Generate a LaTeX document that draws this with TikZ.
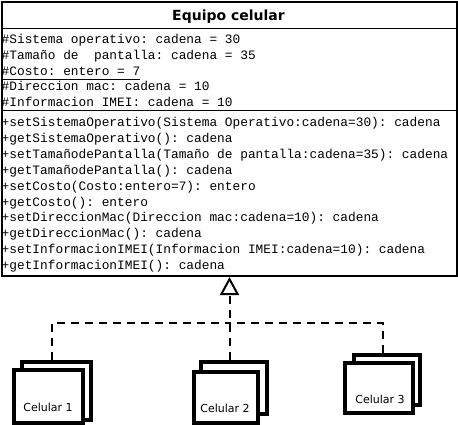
\documentclass[tikz,border=0pt]{standalone}
\usepackage{fontspec}
\setmainfont{DejaVu Sans}
\setmonofont{Liberation Mono}
\usetikzlibrary{arrows.meta}
\tikzset{
  member/.style={anchor=base west, inner sep=0pt, font=\ttfamily\fontsize{12.83}{15}\selectfont},
  classbox/.style={draw, line width=2pt, anchor=north west, inner sep=0pt},
  sepline/.style={line width=1pt},
  celbox/.style={draw, line width=4pt, fill=white, inner sep=0pt},
  cellabel/.style={anchor=base, inner sep=0pt, font=\fontsize{11}{13}\selectfont},
  dep/.style={line width=2pt, dash pattern=on 8pt off 6pt},
  realize/.style={-{Triangle[open, length=18pt, width=19pt, line width=2pt]}}
}
\begin{document}
\begin{tikzpicture}[x=1pt,y=-1pt]
\useasboundingbox (0,0) rectangle (458,425);
% class
\node[classbox, minimum width=455pt, minimum height=274pt] (class) at (1,1) {};
\node[anchor=base, inner sep=0pt, font=\bfseries\fontsize{14}{16}\selectfont] (title) at (228.5,21) {Equipo celular};
\draw[sepline] (class.west |- 0,28.5) -- (class.east |- 0,28.5);
\draw[sepline] (class.west |- 0,110.5) -- (class.east |- 0,110.5);
% attributes
\node[member] (a1) at (1.5,43.5) {\#Sistema operativo: cadena = 30};
\node[member] (a2) at (1.5,59.3) {\#Tamaño de\ \ pantalla: cadena = 35};
\node[member] (a3) at (1.5,75.1) {\#Costo: entero = 7};
\node[member] (a4) at (1.5,90.9) {\#Direccion mac: cadena = 10};
\node[member] (a5) at (1.5,106.7) {\#Informacion IMEI: cadena = 10};
\draw[line width=1pt] ([yshift=-4.5pt]a3.base west) -- ([yshift=-4.5pt]a3.base east);
% methods
\node[member] (m1) at (1.5,127.0) {+setSistemaOperativo(Sistema Operativo:cadena=30): cadena};
\node[member] (m2) at (1.5,142.8) {+getSistemaOperativo(): cadena};
\node[member] (m3) at (1.5,158.6) {+setTamañodePantalla(Tamaño de pantalla:cadena=35): cadena};
\node[member] (m4) at (1.5,174.4) {+getTamañodePantalla(): cadena};
\node[member] (m5) at (1.5,190.2) {+setCosto(Costo:entero=7): entero};
\node[member] (m6) at (1.5,206.0) {+getCosto(): entero};
\node[member] (m7) at (1.5,221.8) {+setDireccionMac(Direccion mac:cadena=10): cadena};
\node[member] (m8) at (1.5,237.6) {+getDireccionMac(): cadena};
\node[member] (m9) at (1.5,253.4) {+setInformacionIMEI(Informacion IMEI:cadena=10): cadena};
\node[member] (m10) at (1.5,269.2) {+getInformacionIMEI(): cadena};
% celulares
\node[celbox, minimum width=69pt, minimum height=58pt] (cel1b) at (56.5,391) {};
\node[celbox, minimum width=69pt, minimum height=53pt] (cel1) at (48.5,396.5) {};
\node[cellabel] (cel1t) at (48,411.5) {Celular 1};
\node[celbox, minimum width=66pt, minimum height=52pt] (cel2b) at (234,388) {};
\node[celbox, minimum width=64pt, minimum height=51pt] (cel2) at (226,397.5) {};
\node[cellabel] (cel2t) at (225,412.5) {Celular 2};
\node[celbox, minimum width=66pt, minimum height=50pt] (cel3b) at (387,380) {};
\node[celbox, minimum width=68pt, minimum height=50pt] (cel3) at (379,388) {};
\node[cellabel] (cel3t) at (380,403) {Celular 3};
% connectors
\coordinate (junc) at (228.5,323);
\draw[dep] (cel1b.north -| 52,0) |- (junc);
\draw[dep] (cel3b.north -| 383,0) |- (junc);
\draw[dep, realize] (cel2b.north -| class.south) -- (class.south);
\end{tikzpicture}
\end{document}
